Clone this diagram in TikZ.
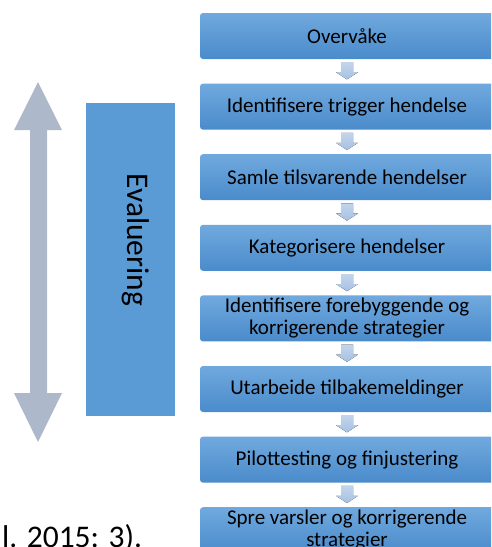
\documentclass[tikz,border=0pt]{standalone}
\usepackage{fontspec}
\setmainfont{Carlito}
\usetikzlibrary{calc}
\definecolor{boxtop}{HTML}{70A9DE}
\definecolor{boxbot}{HTML}{4A8BCB}
\definecolor{arrtop}{HTML}{C3D5EC}
\definecolor{arrbot}{HTML}{A7C0E2}
\definecolor{bigarrow}{HTML}{ADB9CA}
\definecolor{evalfill}{HTML}{5B9BD5}
\tikzset{
  stepbox/.style={rectangle, rounded corners=3pt, minimum width=294pt, minimum height=46pt,
    inner sep=0pt, top color=boxtop, bottom color=boxbot, draw=none,
    align=center, font=\fontsize{21}{22}\selectfont, text=black},
  smallarrow/.style={top color=arrtop, bottom color=arrbot, draw=none},
}
\begin{document}
\begin{tikzpicture}[x=1pt, y=-1pt]
\useasboundingbox (0,0) rectangle (491,547);
\clip (0,0) rectangle (491,547);
\fill[white] (0,0) rectangle (491,547);
% big double arrow
\fill[bigarrow] (38,82) -- (62,130) -- (47,130) -- (47,393) -- (62,393) -- (38,442)
  -- (14,393) -- (30,393) -- (30,130) -- (14,130) -- cycle;
% Evaluering box
\node[rectangle, fill=evalfill, minimum width=89pt, minimum height=313pt, inner sep=0pt,
  anchor=north west] (ev) at (86,103) {};
\node[rotate=-90, anchor=base, inner sep=0pt, font=\fontsize{31.5}{32}\selectfont] (evt) at (127,240) {Evaluering};
% steps
\foreach \i/\t in {0/{Overvåke},1/{Identifisere trigger hendelse},2/{Samle tilsvarende hendelser},
  3/{Kategorisere hendelser},4/{Identifisere forebyggende og\\korrigerende strategier},
  5/{Utarbeide tilbakemeldinger},6/{Pilottesting og finjustering},7/{Spre varsler og korrigerende\\strategier}}{
  \node[stepbox] (b\i) at (347,{36+70.6*\i}) {\t};
}
% small arrows
\foreach \i [evaluate=\i as \j using int(\i+1)] in {0,...,6}{
  \fill[smallarrow] ([shift={(-6,3)}]b\i.south) -- ([shift={(6,3)}]b\i.south)
    -- ([shift={(6,13)}]b\i.south) -- ([shift={(11,13)}]b\i.south)
    -- ([shift={(0,-4)}]b\j.north) -- ([shift={(-11,13)}]b\i.south)
    -- ([shift={(-6,13)}]b\i.south) -- cycle;
}
% partial text at bottom left
\node[anchor=base west, inner sep=0pt, font=\fontsize{31.5}{32}\selectfont] (cite) at (2,547) {l. 2015: 3).};
\end{tikzpicture}
\end{document}
